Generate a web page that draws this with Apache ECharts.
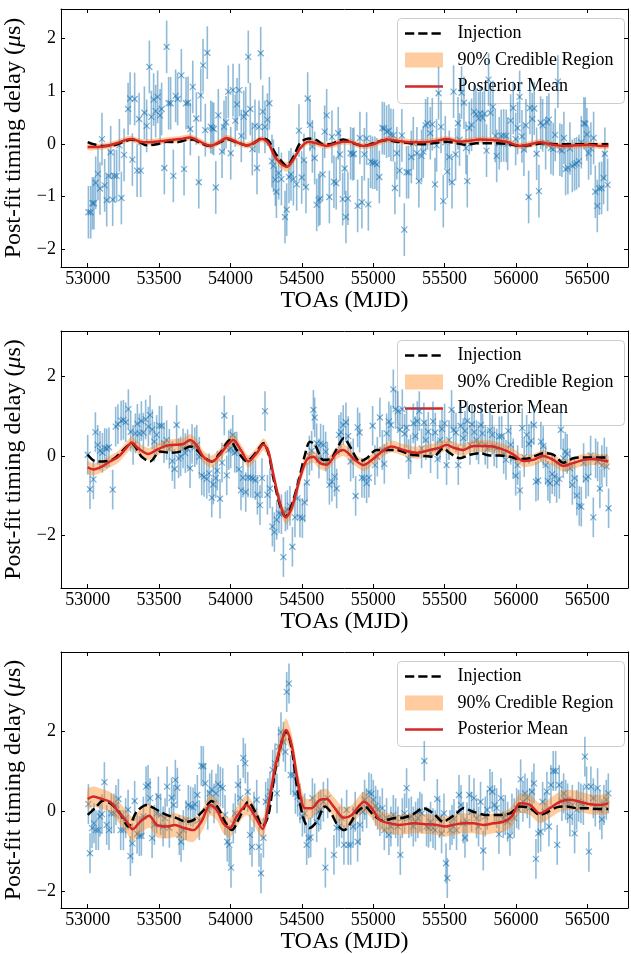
<!DOCTYPE html>
<html><head><meta charset="utf-8">
<script src="https://cdn.jsdelivr.net/npm/echarts@6/dist/echarts.min.js"></script>
<style>html,body{margin:0;padding:0;background:#fff}#c{width:631px;height:954px}</style>
</head><body><div id="c"></div>
<script>
// ---------------- DATA ----------------
const xTicks = [53000, 53500, 54000, 54500, 55000, 55500, 56000, 56500];
const yTicks1 = [-2, -1, 0, 1, 2];
const yTicks2 = [-2, 0, 2];
const yTicks3 = [-2, 0, 2];
const errBar1 = 0.5, errBar2 = 0.5, errBar3 = 0.5;
const legendLabels = ['Injection', '90% Credible Region', 'Posterior Mean'];

// panel 1 residuals [MJD, delay]
const toas1 = [[53005,-1.30],[53021,-1.30],[53033,-1.13],[53044,-1.13],[53056,-0.74],[53072,-0.57],[53086,-0.85],[53100,0.09],[53119,-0.79],[53133,-1.07],[53147,-0.61],[53161,-0.16],[53175,-1.06],[53187,-0.61],[53203,-0.61],[53222,-0.03],[53236,-1.03],[53255,-0.21],[53283,0.66],[53297,0.86],[53313,-0.30],[53329,0.85],[53346,-0.51],[53360,0.47],[53371,-0.51],[53397,0.59],[53413,0.34],[53432,1.46],[53446,0.51],[53462,0.84],[53476,0.62],[53490,0.89],[53507,0.54],[53518,0.66],[53537,-0.46],[53553,1.84],[53567,0.77],[53581,0.77],[53600,-0.61],[53616,0.91],[53630,0.85],[53656,1.30],[53675,-0.48],[53689,0.77],[53703,0.78],[53719,0.28],[53736,1.08],[53761,0.48],[53778,-0.73],[53792,0.92],[53808,1.49],[53824,0.26],[53838,1.73],[53862,0.32],[53873,0.30],[53883,0.28],[53897,-0.83],[53915,0.54],[53941,-0.15],[53955,0.32],[53969,0.41],[53985,0.99],[54002,-0.18],[54018,1.02],[54034,0.44],[54046,0.75],[54062,1.02],[54076,0.15],[54093,0.51],[54107,0.58],[54125,1.65],[54139,0.66],[54153,-0.10],[54172,0.34],[54186,-0.46],[54200,0.32],[54212,1.72],[54226,0.61],[54242,0.32],[54259,0.46],[54273,0.77],[54291,-0.33],[54301,-0.42],[54315,-0.68],[54322,-0.91],[54338,-0.56],[54357,-0.67],[54382,-1.39],[54394,-1.25],[54410,-0.63],[54424,-0.58],[54441,-0.67],[54464,-0.77],[54480,0.25],[54499,-0.64],[54515,-0.31],[54529,-0.82],[54541,0.86],[54557,0.36],[54574,-0.05],[54590,-0.27],[54604,-1.16],[54618,-1.07],[54627,-1.04],[54646,-0.58],[54660,0.23],[54674,0.54],[54693,-1.01],
[54711,0.13],[54725,-0.72],[54741,-0.75],[54755,0.20],[54767,-0.20],[54786,-1.05],[54800,-0.47],[54809,-1.39],[54823,-1.04],[54842,-0.18],[54856,-0.20],[54865,-0.19],[54891,-1.18],[54907,0.11],[54921,-1.11],[54938,-0.20],[54954,0.10],[54966,-1.15],[54982,-0.34],[54996,-0.36],[55012,-0.36],[55026,-0.39],[55043,-0.63],[55064,0.30],[55078,0.29],[55094,0.23],[55110,0.25],[55124,0.17],[55141,0.16],[55152,-0.84],[55166,-0.18],[55185,-0.51],[55201,0.16],[55218,-1.63],[55234,-0.54],[55248,-0.54],[55267,-0.25],[55281,0.01],[55306,-0.18],[55320,-0.71],[55339,-0.23],[55351,-0.15],[55367,0.35],[55381,0.39],[55400,0.20],[55414,0.37],[55433,-0.77],[55444,-0.03],[55458,0.96],[55475,0.32],[55491,-1.09],[55505,0.03],[55519,-0.53],[55533,-0.25],[55552,-0.73],[55563,0.99],[55577,-0.20],[55594,0.39],[55605,0.08],[55619,0.97],[55636,0.78],[55650,-0.08],[55659,-0.71],[55673,0.30],[55689,0.36],[55706,0.61],[55720,0.56],[55738,0.48],[55750,0.58],[55766,0.49],[55780,0.57],[55794,-0.13],[55808,1.22],[55822,0.59],[55839,0.70],[55855,0.15],[55865,-0.23],[55883,0.01],[55897,0.15],[55914,0.16],[55932,0.15],[55942,0.00],[55963,0.44],[55981,0.68],[55998,0.09],[56012,0.30],[56026,0.89],[56042,0.14],[56056,-0.11],[56070,0.35],[56089,-1.01],[56098,0.68],[56114,0.47],[56128,0.67],[56145,-0.19],[56161,-0.90],[56173,0.40],[56187,0.35],[56208,0.01],[56217,0.41],[56231,0.46],[56245,-0.08],[56261,-0.10],[56275,0.17],[56294,1.18],[56308,-0.11],[56322,-0.13],[56336,0.11],[56348,-0.48],[56364,-0.46],[56378,-0.09],[56395,-0.42],[56411,-0.39],[56425,-0.37],[56441,-0.33],[56458,0.03],[56476,0.39],[56486,0.38],[56497,0.18],[56509,-0.18],[56525,-0.09],[56544,0.11],[56556,-0.91],[56570,-1.18],[56584,-0.85],[56600,-0.84],[56614,-0.65],[56623,-0.19],[56642,-0.78]];

// panel 1 injection [MJD, delay]
const injection1 = [[53000,0.03],[53040,-0.01],[53110,-0.04],[53180,-0.03],[53250,0.04],[53308,0.08],[53367,0.03],[53413,-0.03],[53483,-0.01],[53553,0.04],[53623,0.03],[53693,0.07],[53740,0.08],[53787,0.02],[53857,-0.04],[53927,0.03],[53974,0.09],[54044,0.03],[54114,-0.03],[54160,0.01],[54219,0.10],[54266,0.06],[54312,-0.17],[54359,-0.34],[54394,-0.42],[54441,-0.25],[54487,0.01],[54546,0.10],[54604,0.07],[54651,-0.01],[54697,-0.01],[54744,0.04],[54790,0.08],[54837,0.04],[54884,-0.01],[54931,-0.04],[55001,0.01],[55094,0.07],[55164,0.04],[55257,0.01],[55351,-0.01],[55444,0.02],[55514,0.04],[55584,0.01],[55654,-0.02],[55724,0.01],[55818,0.01],[55935,0.00],[56028,-0.04],[56098,-0.03],[56191,0.01],[56285,-0.01],[56378,-0.01],[56471,-0.01],[56565,-0.01],[56647,-0.01]];

// panel 1 posterior [MJD, lower 5%, mean, upper 95%]
const posterior1 = [[53000,-0.12,-0.06,0.00],[53063,-0.12,-0.06,0.00],[53133,-0.10,-0.04,0.02],[53203,-0.05,0.01,0.07],[53273,0.02,0.08,0.14],[53308,0.03,0.09,0.15],[53367,-0.02,0.04,0.10],[53437,-0.03,0.03,0.09],[53507,-0.01,0.05,0.11],[53577,0.01,0.07,0.13],[53647,0.03,0.09,0.15],[53717,0.06,0.12,0.18],[53787,-0.02,0.04,0.10],[53857,-0.10,-0.04,0.02],[53927,-0.02,0.04,0.10],[53974,0.05,0.11,0.17],[54044,-0.03,0.03,0.09],[54114,-0.09,-0.03,0.03],[54160,-0.05,0.01,0.07],[54219,0.03,0.09,0.15],[54266,-0.05,0.01,0.07],[54312,-0.33,-0.25,-0.17],[54359,-0.48,-0.39,-0.30],[54394,-0.53,-0.44,-0.35],[54441,-0.38,-0.30,-0.22],[54487,-0.15,-0.09,-0.03],[54546,-0.02,0.04,0.10],[54604,-0.05,0.01,0.07],[54674,-0.10,-0.04,0.02],[54744,-0.05,0.01,0.07],[54790,-0.02,0.04,0.10],[54837,-0.02,0.04,0.10],[54884,-0.07,-0.01,0.05],[54931,-0.10,-0.04,0.02],[55001,-0.07,-0.01,0.05],[55094,0.02,0.08,0.14],[55164,0.00,0.06,0.12],[55257,-0.03,0.03,0.09],[55351,-0.03,0.03,0.09],[55444,0.00,0.06,0.12],[55514,0.03,0.09,0.15],[55608,-0.02,0.04,0.10],[55678,0.00,0.06,0.12],[55748,0.02,0.08,0.14],[55841,0.01,0.07,0.13],[55935,-0.02,0.04,0.10],[56028,-0.10,-0.04,0.02],[56098,-0.07,-0.01,0.05],[56168,-0.03,0.03,0.09],[56238,-0.07,-0.01,0.05],[56332,-0.10,-0.04,0.02],[56425,-0.09,-0.03,0.03],[56518,-0.08,-0.02,0.04],[56588,-0.10,-0.04,0.02],[56647,-0.10,-0.04,0.02]];

// panel 2 residuals
const toas2 = [[53000,0.03],[53016,-0.84],[53040,-0.59],[53054,0.60],[53070,0.28],[53086,0.13],[53103,0.08],[53119,0.20],[53133,0.19],[53149,0.22],[53175,-0.85],[53196,0.74],[53212,0.80],[53234,0.89],[53250,0.91],[53266,0.85],[53285,1.18],[53301,0.61],[53318,0.28],[53334,0.57],[53348,0.81],[53362,0.57],[53376,0.88],[53390,0.59],[53406,0.92],[53425,0.74],[53437,1.03],[53453,0.67],[53467,0.36],[53483,0.53],[53502,0.76],[53518,0.76],[53535,0.32],[53553,0.40],[53572,0.18],[53593,-0.13],[53609,-0.33],[53623,0.78],[53637,-0.06],[53651,-0.01],[53668,0.19],[53684,0.07],[53700,0.17],[53717,-0.31],[53731,0.30],[53750,0.22],[53764,0.28],[53782,-0.02],[53799,-0.49],[53815,-0.53],[53834,-0.58],[53850,-0.44],[53869,-1.05],[53880,-0.72],[53897,-0.56],[53908,-0.37],[53927,-1.08],[53941,-0.17],[53957,1.02],[53974,-0.49],[53988,0.15],[54002,0.19],[54016,0.53],[54030,0.08],[54044,0.11],[54060,-0.34],[54074,-0.87],[54088,-0.55],[54107,-0.91],[54123,-0.54],[54142,-0.55],[54158,-0.57],[54175,-0.61],[54189,-0.98],[54207,-1.24],[54221,-0.56],[54242,1.13],[54259,-0.98],[54277,-0.82],[54294,-1.78],[54308,-1.92],[54324,-1.61],[54340,-1.45],[54357,-1.47],[54371,-2.55],[54385,-1.40],[54399,-1.36],[54417,-1.26],[54434,-2.29],[54452,-1.55],[54469,-1.07],[54487,-1.55],[54504,-1.57],[54520,-1.17],[54536,-0.67],[54553,0.01],[54569,0.13],[54581,1.16],[54590,0.97],[54604,0.32],[54620,-0.06],[54632,0.31],[54651,0.28],[54667,0.11],[54679,-0.14],[54693,-0.73],
[54711,-0.65],[54730,-0.52],[54744,-0.82],[54760,0.53],[54774,0.60],[54790,0.78],[54809,0.85],[54825,0.50],[54842,-0.14],[54860,-0.06],[54877,-1.01],[54891,0.72],[54905,0.59],[54921,-0.55],[54938,-0.56],[54954,-0.69],[54970,-0.55],[54996,0.76],[55012,-0.23],[55029,-0.02],[55047,0.97],[55064,0.15],[55078,-0.20],[55094,0.57],[55110,0.87],[55124,0.78],[55141,1.68],[55157,1.18],[55173,1.13],[55187,0.66],[55204,1.18],[55220,0.56],[55234,0.71],[55248,-0.08],[55262,0.04],[55281,0.82],[55295,0.50],[55309,0.88],[55323,1.13],[55339,0.19],[55355,0.84],[55369,0.40],[55386,0.61],[55402,0.07],[55419,0.87],[55435,0.59],[55451,-0.08],[55468,0.40],[55482,0.68],[55500,0.82],[55514,-0.23],[55531,0.40],[55549,1.16],[55563,0.66],[55580,0.59],[55596,-0.23],[55612,0.76],[55631,0.45],[55643,0.63],[55659,0.88],[55678,0.28],[55692,0.80],[55708,0.60],[55724,0.40],[55738,0.29],[55755,0.78],[55766,0.57],[55785,0.28],[55801,0.18],[55818,0.65],[55834,0.53],[55848,0.24],[55865,0.19],[55883,0.49],[55900,0.50],[55914,0.05],[55930,-0.10],[55946,0.63],[55963,0.28],[55981,-0.06],[55998,-0.50],[56012,-0.23],[56028,-0.87],[56044,0.70],[56058,-0.03],[56075,0.53],[56091,0.30],[56107,0.38],[56126,0.78],[56140,-0.65],[56156,-0.62],[56175,0.36],[56191,0.25],[56208,-0.23],[56224,-0.63],[56238,-0.69],[56254,-0.46],[56271,-0.52],[56285,-0.68],[56304,-0.58],[56315,0.66],[56332,-0.06],[56346,0.11],[56359,0.05],[56378,-0.31],[56395,-0.73],[56411,-0.56],[56427,-1.00],[56444,-1.26],[56458,-1.28],[56474,-0.18],[56490,-0.58],[56507,-0.52],[56523,0.01],[56542,-1.55],[56558,-0.06],[56572,-0.14],[56588,-0.82],[56602,-0.23],[56619,-0.04],[56635,-0.27],[56649,-1.32]];

const injection2 = [[53000,0.03],[53051,-0.13],[53110,-0.14],[53180,-0.08],[53250,0.15],[53308,0.32],[53348,0.15],[53378,-0.02],[53437,-0.14],[53507,0.11],[53577,0.08],[53647,0.11],[53717,0.24],[53764,0.15],[53810,-0.02],[53869,-0.14],[53927,0.07],[53997,0.40],[54044,0.15],[54114,-0.13],[54184,0.11],[54231,0.32],[54266,0.07],[54301,-0.56],[54347,-1.24],[54387,-1.53],[54429,-1.24],[54476,-0.65],[54522,0.03],[54557,0.36],[54592,0.28],[54651,-0.10],[54700,-0.08],[54744,0.17],[54795,0.45],[54840,0.22],[54907,-0.14],[54954,-0.06],[55024,0.15],[55094,0.15],[55164,0.15],[55257,0.04],[55351,0.00],[55421,-0.02],[55491,0.19],[55538,0.07],[55608,-0.06],[55678,0.03],[55748,0.07],[55818,0.01],[55888,0.01],[55958,-0.02],[56028,-0.08],[56098,-0.06],[56191,0.07],[56261,0.03],[56332,-0.17],[56402,-0.06],[56472,-0.04],[56565,-0.04],[56647,-0.04]];

const posterior2 = [[53000,-0.44,-0.29,-0.14],[53040,-0.49,-0.34,-0.19],[53098,-0.42,-0.27,-0.12],[53156,-0.29,-0.14,0.01],[53215,-0.17,-0.02,0.13],[53273,0.06,0.21,0.36],[53308,0.19,0.34,0.49],[53355,0.04,0.19,0.34],[53425,-0.10,0.05,0.20],[53483,0.00,0.15,0.30],[53553,0.11,0.26,0.41],[53612,0.13,0.28,0.43],[53670,0.15,0.30,0.45],[53717,0.25,0.40,0.55],[53764,0.11,0.26,0.41],[53810,-0.17,-0.02,0.13],[53869,-0.29,-0.14,0.01],[53927,-0.12,0.03,0.18],[53974,0.11,0.26,0.41],[54020,0.25,0.40,0.55],[54079,-0.04,0.11,0.26],[54125,-0.29,-0.14,0.01],[54184,-0.08,0.07,0.22],[54231,0.14,0.29,0.44],[54266,-0.05,0.11,0.27],[54301,-0.65,-0.48,-0.31],[54347,-1.37,-1.19,-1.01],[54387,-1.73,-1.55,-1.37],[54429,-1.50,-1.32,-1.14],[54487,-0.73,-0.56,-0.39],[54534,-0.26,-0.10,0.06],[54581,-0.17,-0.02,0.13],[54627,-0.33,-0.18,-0.03],[54674,-0.37,-0.22,-0.07],[54744,-0.08,0.07,0.22],[54790,0.00,0.15,0.30],[54825,-0.08,0.07,0.22],[54872,-0.25,-0.10,0.05],[54931,-0.38,-0.23,-0.08],[54977,-0.29,-0.14,0.01],[55047,-0.08,0.07,0.22],[55129,0.09,0.24,0.39],[55211,0.00,0.15,0.30],[55304,-0.07,0.08,0.23],[55398,0.00,0.15,0.30],[55468,0.06,0.21,0.36],[55514,0.13,0.28,0.43],[55561,0.06,0.21,0.36],[55631,0.00,0.15,0.30],[55701,0.10,0.25,0.40],[55794,0.10,0.25,0.40],[55888,0.04,0.19,0.34],[55981,-0.11,0.04,0.19],[56051,-0.28,-0.13,0.02],[56121,-0.25,-0.10,0.05],[56191,-0.15,0.00,0.15],[56261,-0.25,-0.10,0.05],[56332,-0.40,-0.25,-0.10],[56402,-0.33,-0.18,-0.03],[56472,-0.25,-0.10,0.05],[56542,-0.23,-0.08,0.07],[56588,-0.25,-0.10,0.05],[56647,-0.29,-0.14,0.01]];

// panel 3 residuals
const toas3 = [[53005,0.17],[53016,-1.06],[53030,-0.43],[53044,-0.31],[53058,-0.48],[53075,-0.48],[53086,-0.14],[53100,-0.08],[53117,0.72],[53133,-0.35],[53149,-0.48],[53166,-0.06],[53184,-0.06],[53198,0.15],[53215,0.30],[53231,-0.48],[53250,-0.48],[53266,-0.18],[53283,0.03],[53299,-1.13],[53313,-0.81],[53329,0.25],[53346,-0.57],[53362,-0.63],[53376,-0.62],[53390,-0.14],[53409,0.61],[53423,0.65],[53437,0.32],[53451,-0.68],[53467,-0.35],[53483,-0.06],[53495,0.36],[53511,-0.10],[53528,-0.39],[53542,-0.18],[53556,0.61],[53572,-0.42],[53588,0.33],[53602,0.15],[53614,0.78],[53628,0.58],[53642,-0.60],[53654,-0.77],[53670,-0.48],[53689,-0.23],[53705,0.15],[53721,0.11],[53738,0.09],[53752,0.17],[53768,0.40],[53782,-0.23],[53796,1.13],[53810,1.12],[53824,0.69],[53841,0.03],[53855,0.44],[53869,0.53],[53885,0.19],[53899,0.44],[53913,0.67],[53929,0.61],[53946,0.57],[53962,-0.10],[53978,-0.77],[53992,-0.85],[54004,-1.42],[54020,-0.31],[54034,-0.06],[54053,0.65],[54069,0.32],[54090,1.33],[54104,1.19],[54121,0.48],[54137,-0.60],[54151,-0.90],[54165,-0.02],[54184,0.28],[54200,-0.90],[54214,-1.56],[54231,-0.67],[54247,0.23],[54263,0.32],[54277,0.48],[54296,1.03],[54312,1.19],[54326,0.44],[54338,1.61],[54354,1.97],[54371,1.73],[54385,1.48],[54394,2.98],[54410,3.19],[54422,0.90],[54441,0.90],[54455,0.43],[54471,0.36],[54487,0.19],[54504,-0.14],[54520,-0.06],[54534,-0.85],[54548,-0.68],[54562,-0.66],[54574,0.32],[54590,0.19],[54604,-0.28],[54618,-0.02],[54632,0.03],[54651,0.23],[54665,-1.42],[54681,0.32],
[54725,-1.10],[54744,-0.42],[54762,-0.39],[54779,-0.18],[54795,-0.85],[54814,0.03],[54825,-0.85],[54842,-0.85],[54860,-0.39],[54874,-0.02],[54891,-0.77],[54907,-0.35],[54926,-0.02],[54940,0.28],[54954,0.07],[54970,0.46],[54987,0.43],[55001,0.28],[55017,0.13],[55031,0.03],[55047,-0.13],[55064,0.07],[55078,-0.48],[55094,-0.18],[55110,-0.60],[55124,-0.39],[55141,-0.10],[55157,-0.18],[55173,-0.39],[55190,-1.10],[55204,-0.18],[55220,-0.06],[55234,0.57],[55250,-0.18],[55267,-0.14],[55281,-0.39],[55297,-0.27],[55313,-0.18],[55327,-0.02],[55341,-0.06],[55358,1.25],[55374,-0.39],[55388,-0.42],[55402,-0.27],[55419,-0.43],[55435,-0.48],[55449,0.30],[55465,-0.18],[55479,-0.56],[55496,-0.06],[55510,-1.31],[55519,-1.68],[55538,-0.48],[55552,-0.35],[55566,-0.20],[55584,-0.48],[55601,0.40],[55615,0.15],[55631,-0.31],[55643,-0.67],[55657,-0.28],[55673,0.40],[55689,-0.02],[55706,0.32],[55724,-0.18],[55738,-0.39],[55752,0.23],[55771,-0.99],[55785,-0.14],[55799,0.03],[55818,0.55],[55834,0.48],[55850,0.15],[55865,0.07],[55881,-0.58],[55895,0.32],[55911,-0.18],[55925,-0.10],[55942,-0.27],[55958,-0.62],[55972,-0.06],[55988,-0.18],[56005,0.07],[56019,0.03],[56033,0.79],[56049,0.23],[56063,0.44],[56079,0.32],[56096,0.07],[56112,0.48],[56126,0.69],[56140,-1.20],[56156,-0.56],[56173,-0.52],[56187,0.23],[56203,-0.02],[56217,0.48],[56231,-0.39],[56245,0.65],[56261,1.00],[56278,1.00],[56289,-0.85],[56303,0.65],[56322,0.25],[56334,0.44],[56348,0.28],[56362,0.19],[56378,-0.14],[56395,0.15],[56411,-0.56],[56425,0.03],[56439,0.23],[56455,0.19],[56472,0.15],[56483,1.36],[56495,0.61],[56511,-1.02],[56525,0.61],[56542,0.32],[56556,0.11],[56572,0.57],[56588,0.03],[56602,-0.21],[56616,0.15],[56633,0.28],[56647,0.44]];

const injection3 = [[53000,-0.10],[53051,0.07],[53110,0.26],[53168,0.17],[53226,-0.06],[53285,-0.39],[53343,-0.02],[53413,0.15],[53483,0.03],[53553,-0.10],[53623,-0.18],[53693,-0.27],[53740,-0.23],[53810,0.01],[53869,0.25],[53915,0.07],[53962,-0.27],[54009,-0.48],[54067,-0.14],[54125,0.23],[54184,-0.10],[54224,-0.39],[54266,-0.10],[54312,0.98],[54359,1.73],[54389,2.00],[54429,1.57],[54464,0.65],[54511,-0.18],[54553,-0.43],[54604,-0.27],[54662,0.11],[54700,-0.02],[54750,-0.35],[54797,-0.48],[54843,-0.29],[54884,-0.04],[54942,0.11],[55001,-0.10],[55071,-0.25],[55141,-0.18],[55211,-0.17],[55281,-0.08],[55351,0.07],[55421,-0.06],[55491,-0.27],[55538,-0.18],[55584,-0.06],[55631,0.07],[55701,-0.02],[55794,-0.10],[55888,-0.10],[55958,-0.06],[56028,0.11],[56098,0.07],[56168,-0.10],[56226,-0.02],[56285,0.09],[56355,0.11],[56425,0.07],[56495,0.07],[56565,0.05],[56647,0.05]];

const posterior3 = [[53000,0.05,0.30,0.55],[53040,0.11,0.36,0.61],[53098,0.05,0.30,0.55],[53156,-0.02,0.23,0.48],[53215,-0.29,-0.02,0.25],[53273,-0.55,-0.27,0.01],[53315,-0.76,-0.46,-0.16],[53367,-0.57,-0.27,0.03],[53432,-0.42,-0.12,0.18],[53483,-0.65,-0.35,-0.05],[53553,-0.69,-0.39,-0.09],[53612,-0.65,-0.35,-0.05],[53670,-0.72,-0.42,-0.12],[53740,-0.78,-0.48,-0.18],[53799,-0.53,-0.25,0.03],[53857,-0.11,0.15,0.41],[53904,-0.23,0.03,0.29],[53950,-0.56,-0.31,-0.06],[53997,-0.68,-0.43,-0.18],[54044,-0.39,-0.14,0.11],[54114,-0.10,0.15,0.40],[54172,-0.39,-0.14,0.11],[54224,-0.70,-0.45,-0.20],[54266,-0.12,0.15,0.42],[54312,0.79,1.07,1.35],[54359,1.45,1.73,2.01],[54389,1.74,2.03,2.32],[54429,1.37,1.65,1.93],[54476,0.38,0.65,0.92],[54522,-0.18,0.07,0.32],[54569,-0.18,0.07,0.32],[54627,0.03,0.28,0.53],[54674,0.05,0.30,0.55],[54720,-0.13,0.12,0.37],[54795,-0.42,-0.17,0.08],[54850,-0.35,-0.10,0.15],[54900,-0.13,0.12,0.37],[54935,-0.02,0.23,0.48],[54989,-0.18,0.07,0.32],[55047,-0.48,-0.23,0.02],[55117,-0.56,-0.31,-0.06],[55187,-0.60,-0.35,-0.10],[55281,-0.56,-0.31,-0.06],[55374,-0.58,-0.33,-0.08],[55444,-0.60,-0.35,-0.10],[55503,-0.64,-0.39,-0.14],[55561,-0.60,-0.35,-0.10],[55631,-0.56,-0.31,-0.06],[55701,-0.56,-0.31,-0.06],[55771,-0.60,-0.35,-0.10],[55841,-0.56,-0.31,-0.06],[55911,-0.52,-0.27,-0.02],[55970,-0.39,-0.14,0.11],[56028,-0.06,0.19,0.44],[56098,-0.10,0.15,0.40],[56168,-0.31,-0.06,0.19],[56238,-0.18,0.07,0.32],[56308,-0.02,0.23,0.48],[56378,0.03,0.28,0.53],[56448,-0.02,0.23,0.48],[56518,-0.08,0.17,0.42],[56588,-0.10,0.15,0.40],[56647,-0.06,0.19,0.44]];

// ---------------- LAYOUT / STYLE ----------------
const FONT = '"Liberation Serif", "Times New Roman", serif';
const X_MIN = 52813, X_MAX = 56785;
const panels = [
  {toas: toas1, err: errBar1, inj: injection1, post: posterior1, yMin: -2.34, yMax: 2.56, yTicks: yTicks1, top: 9, height: 258},
  {toas: toas2, err: errBar2, inj: injection2, post: posterior2, yMin: -3.33, yMax: 3.15, yTicks: yTicks2, top: 331, height: 257},
  {toas: toas3, err: errBar3, inj: injection3, post: posterior3, yMin: -2.43, yMax: 3.98, yTicks: yTicks3, top: 652, height: 256}
];
const BLUE = 'rgba(31,119,180,0.5)';
const BLUE_MK = 'rgba(31,119,180,0.6)';
const BAND = 'rgba(255,127,14,0.4)';
const RED = '#d62728';
const DASH = [9.25, 4];
const minusFmt = v => (v < 0 ? '\u2212' + Math.abs(v) : String(v));
const plainFmt = v => String(v);

const grid = [], xAxis = [], yAxis = [], series = [], graphic = [];
panels.forEach((p, i) => {
  grid.push({left: 61, right: 3, top: p.top, height: p.height, containLabel: false, outerBoundsMode: 'none'});
  const axLine = {show: true, onZero: false, lineStyle: {color: '#000', width: 1}};
  xAxis.push({
    type: 'value', gridIndex: i, min: X_MIN, max: X_MAX, position: 'bottom',
    axisLine: axLine, splitLine: {show: false},
    axisTick: {show: true, inside: true, length: 4, customValues: xTicks, lineStyle: {color: '#000', width: 1}},
    axisLabel: {customValues: xTicks, formatter: plainFmt, color: '#000', fontFamily: FONT, fontSize: 18, margin: 3},
    name: 'TOAs (MJD)', nameLocation: 'middle', nameGap: 22,
    nameTextStyle: {color: '#000', fontFamily: FONT, fontSize: 24}
  });
  xAxis.push({
    type: 'value', gridIndex: i, min: X_MIN, max: X_MAX, position: 'top',
    axisLine: axLine, splitLine: {show: false},
    axisTick: {show: true, inside: true, length: 4, customValues: xTicks, lineStyle: {color: '#000', width: 1}},
    axisLabel: {show: false}
  });
  yAxis.push({
    type: 'value', gridIndex: i, min: p.yMin, max: p.yMax, position: 'left',
    axisLine: axLine, splitLine: {show: false},
    axisTick: {show: true, inside: true, length: 4, customValues: p.yTicks, lineStyle: {color: '#000', width: 1}},
    axisLabel: {customValues: p.yTicks, formatter: minusFmt, color: '#000', fontFamily: FONT, fontSize: 18, margin: 5},
    name: 'Post-fit timing delay ({i|\u03bc}s)', nameLocation: 'middle', nameGap: 28,
    nameTextStyle: {color: '#000', fontFamily: FONT, fontSize: 24,
      rich: {i: {fontStyle: 'italic', fontFamily: FONT, fontSize: 24, color: '#000'}}}
  });
  yAxis.push({
    type: 'value', gridIndex: i, min: p.yMin, max: p.yMax, position: 'right',
    axisLine: axLine, splitLine: {show: false},
    axisTick: {show: true, inside: true, length: 4, customValues: p.yTicks, lineStyle: {color: '#000', width: 1}},
    axisLabel: {show: false}
  });
  const xi = 2 * i, yi = 2 * i;
  // error bars with x markers
  series.push({
    type: 'custom', xAxisIndex: xi, yAxisIndex: yi, clip: true, z: 1,
    data: p.toas.map(d => [d[0], d[1], p.err]),
    encode: {x: 0, y: 1},
    renderItem: (params, api) => {
      const x = api.value(0), y = api.value(1), e = api.value(2);
      const c = api.coord([x, y]), a = api.coord([x, y + e]), b = api.coord([x, y - e]);
      const s = 3;
      return {type: 'group', children: [
        {type: 'line', shape: {x1: a[0], y1: a[1], x2: b[0], y2: b[1]}, style: {stroke: BLUE, lineWidth: 1.6}},
        {type: 'line', shape: {x1: c[0] - s, y1: c[1] - s, x2: c[0] + s, y2: c[1] + s}, style: {stroke: BLUE_MK, lineWidth: 1.2}},
        {type: 'line', shape: {x1: c[0] - s, y1: c[1] + s, x2: c[0] + s, y2: c[1] - s}, style: {stroke: BLUE_MK, lineWidth: 1.2}}
      ]};
    }
  });
  // credible band
  series.push({
    type: 'custom', xAxisIndex: xi, yAxisIndex: yi, clip: true, z: 2,
    data: [[p.post[0][0], p.post[0][2]]],
    encode: {x: 0, y: 1},
    renderItem: (params, api) => {
      const up = p.post.map(r => api.coord([r[0], r[3]]));
      const lo = p.post.map(r => api.coord([r[0], r[1]])).reverse();
      return {type: 'polygon', shape: {points: up.concat(lo), smooth: 0.25}, style: {fill: BAND}};
    }
  });
  // injection
  series.push({
    type: 'line', xAxisIndex: xi, yAxisIndex: yi, z: 3, data: p.inj,
    showSymbol: false, symbol: 'none', smooth: 0.3,
    lineStyle: {color: '#000', width: 2.5, type: DASH}
  });
  // posterior mean
  series.push({
    type: 'line', xAxisIndex: xi, yAxisIndex: yi, z: 4, data: p.post.map(r => [r[0], r[2]]),
    showSymbol: false, symbol: 'none', smooth: 0.3,
    lineStyle: {color: RED, width: 2.5}
  });
  // legend (frame + handles + labels)
  const T = p.top;
  const txt = (t, y) => ({type: 'text', style: {text: t, x: 457.5, y: y, fill: '#000', fontFamily: FONT, fontSize: 18, verticalAlign: 'middle', align: 'left'}});
  graphic.push({type: 'group', z: 100, children: [
    {type: 'rect', shape: {x: 397.5, y: T + 9.5, width: 227, height: 85, r: 4},
     style: {fill: 'rgba(255,255,255,0.8)', stroke: '#cccccc', lineWidth: 1}},
    {type: 'line', shape: {x1: 405, y1: T + 24.5, x2: 443, y2: T + 24.5}, style: {stroke: '#000', lineWidth: 2.5, lineDash: DASH}},
    txt(legendLabels[0], T + 24.5),
    {type: 'rect', shape: {x: 405, y: T + 43.5, width: 38, height: 15}, style: {fill: BAND}},
    txt(legendLabels[1], T + 51),
    {type: 'line', shape: {x1: 405, y1: T + 77.5, x2: 443, y2: T + 77.5}, style: {stroke: RED, lineWidth: 2.5}},
    txt(legendLabels[2], T + 77.5)
  ]});
});

const chart = echarts.init(document.getElementById('c'), null, {renderer: 'canvas'});
chart.setOption({animation: false, backgroundColor: '#fff', grid, xAxis, yAxis, series, graphic});
</script></body></html>
